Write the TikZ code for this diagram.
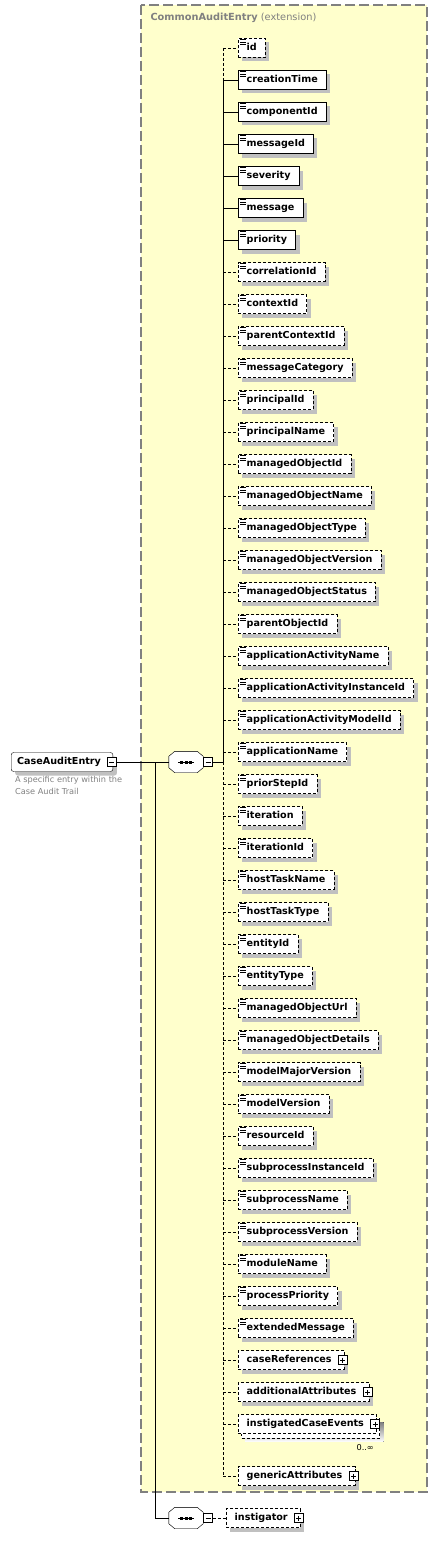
\documentclass[tikz,border=0pt]{standalone}
\usepackage{fontspec}
\setmainfont{DejaVu Sans}
\usetikzlibrary{positioning,shadows}

\definecolor{extFill}{RGB}{255,255,204}
\definecolor{extFrame}{RGB}{128,128,128}
\definecolor{shade}{RGB}{192,192,192}
\definecolor{noteText}{RGB}{128,128,128}

\pgfdeclarelayer{frame}
\pgfdeclarelayer{behind}
\pgfsetlayers{frame,behind,main}

\tikzset{
  elemBase/.style={draw, fill=white, anchor=west, inner xsep=8.5pt, inner ysep=4.5pt,
    text height=7.5pt, text depth=2.5pt, font=\fontsize{9.6}{11}\selectfont\bfseries},
  elem/.style={elemBase,
    drop shadow={shadow xshift=4pt, shadow yshift=-4pt, fill=shade, draw=none, opacity=1}},
  req/.style={solid},
  opt/.style={dash pattern=on 3pt off 2pt},
  pm/.style={draw, fill=white, solid, line width=.8pt, minimum size=9pt, inner sep=0pt},
  plusbox/.style={pm, path picture={
      \draw[line width=.8pt] ([xshift=2pt]path picture bounding box.west) -- ([xshift=-2pt]path picture bounding box.east)
        ([yshift=-2pt]path picture bounding box.north) -- ([yshift=2pt]path picture bounding box.south);}},
  minusbox/.style={pm, path picture={
      \draw[line width=.8pt] ([xshift=2pt]path picture bounding box.west) -- ([xshift=-2pt]path picture bounding box.east);}},
  seq/.style={minimum width=34pt, minimum height=21pt, inner sep=0pt},
  extBox/.style={fill=extFill, draw=extFrame, line width=1.2pt, dash pattern=on 10pt off 4pt},
}

\begin{document}
\begin{tikzpicture}[x=1pt,y=-1pt,line width=1pt]
  \useasboundingbox (0,0) rectangle (438,1544);

  % extension frame
  \begin{pgfonlayer}{frame}
    \draw[extBox] (141,5) rectangle (427,1492);
  \end{pgfonlayer}
  \node[anchor=west, text=extFrame, font=\fontsize{9.8}{12}\selectfont] (extTitle) at (147,18)
    {\textbf{CommonAuditEntry} (extension)};

  % root element
  \node[elem, req, rounded corners=2.5pt, inner xsep=6pt] (caseAuditEntry) at (11,762) {CaseAuditEntry\hspace*{6pt}};
  \node[minusbox] (rootToggle) at ([xshift=-1.5pt]caseAuditEntry.east) {};
  \node[anchor=north west, text=noteText, align=left, inner sep=0pt,
    font=\fontsize{8.2}{12}\selectfont] (entryNote) at (15,776) {A specific entry within the\\Case Audit Trail};

  % sequences
  \node[seq] (seqMain) at (186,762) {};
  \node[seq] (seqLower) at (186,1518) {};
  \foreach \s in {seqMain,seqLower} {
    \fill[shade,shift={(3,3)}] ([xshift=6pt]\s.north west) -- ([xshift=-6pt]\s.north east)
      -- ([yshift=-5pt]\s.north east) -- ([yshift=5pt]\s.south east) -- ([xshift=-6pt]\s.south east)
      -- ([xshift=6pt]\s.south west) -- ([yshift=5pt]\s.south west) -- ([yshift=-5pt]\s.north west) -- cycle;
    \draw[fill=white] ([xshift=6pt]\s.north west) -- ([xshift=-6pt]\s.north east)
      -- ([yshift=-5pt]\s.north east) -- ([yshift=5pt]\s.south east) -- ([xshift=-6pt]\s.south east)
      -- ([xshift=6pt]\s.south west) -- ([yshift=5pt]\s.south west) -- ([yshift=-5pt]\s.north west) -- cycle;
    \draw (\s.center) +(-8,0) -- +(8,0);
    \foreach \dx in {-4.5,0,4.5}
      \fill ([xshift=\dx pt]\s.center) +(-1.5,-1.5) rectangle +(1.5,1.5);
  }
  \node[minusbox] (seqMainToggle) at (208,762) {};
  \node[minusbox] (seqLowerToggle) at (208,1518) {};
  \coordinate (branch) at (155,762);
  \draw (rootToggle.east) -- (seqMain.west);
  \draw (branch) |- (seqLower.west);

  % spine
  \coordinate (spTop) at (223,48);
  \coordinate (spReq) at (223,80);
  \coordinate (spSeq) at (223,762);
  \coordinate (spEnd) at (223,1476);
  \draw[opt] (spTop) -- (spReq);
  \draw (spReq) -- (spSeq);
  \draw[opt] (spSeq) -- (spEnd);
  \draw (seqMainToggle.east) -- (spSeq);

  % simple elements
  \foreach \lbl/\kind [count=\i from 0] in {id/opt, creationTime/req, componentId/req, messageId/req,
      severity/req, message/req, priority/req, correlationId/opt, contextId/opt, parentContextId/opt,
      messageCategory/opt, principalId/opt, principalName/opt, managedObjectId/opt,
      managedObjectName/opt, managedObjectType/opt, managedObjectVersion/opt, managedObjectStatus/opt,
      parentObjectId/opt, applicationActivityName/opt, applicationActivityInstanceId/opt,
      applicationActivityModelId/opt, applicationName/opt, priorStepId/opt, iteration/opt,
      iterationId/opt, hostTaskName/opt, hostTaskType/opt, entityId/opt, entityType/opt,
      managedObjectUrl/opt, managedObjectDetails/opt, modelMajorVersion/opt, modelVersion/opt,
      resourceId/opt, subprocessInstanceId/opt, subprocessName/opt, subprocessVersion/opt,
      moduleName/opt, processPriority/opt, extendedMessage/opt} {
    \coordinate (sp\i) at (223,{48+32*\i});
    \node[elem,\kind] (\lbl) at (238,{48+32*\i}) {\lbl};
    \draw[\kind] (sp\i) -- (\lbl.west);
    \foreach \dy in {1.5,3.75,6}
      \draw[solid,line width=.8pt] ([shift={(2,\dy)}]\lbl.north west) -- ++(6,0);
  }

  % complex elements
  \foreach \lbl/\yy in {caseReferences/1360, additionalAttributes/1392, genericAttributes/1476} {
    \coordinate (sp\lbl) at (223,\yy);
    \node[elem,opt] (\lbl) at (238,\yy) {\lbl\hspace*{4pt}};
    \draw[opt] (sp\lbl) -- (\lbl.west);
    \node[plusbox] at ([xshift=-1.5pt]\lbl.east) {};
  }
  \node[elemBase,opt] (instigatedCaseEvents) at (238,1424) {instigatedCaseEvents\hspace*{4pt}};
  \begin{pgfonlayer}{behind}
    \fill[shade] ([shift={(7,8)}]instigatedCaseEvents.north west) rectangle ([shift={(7,8)}]instigatedCaseEvents.south east);
    \draw[opt,fill=white] ([shift={(3,4)}]instigatedCaseEvents.north west) rectangle ([shift={(3,4)}]instigatedCaseEvents.south east);
  \end{pgfonlayer}
  \coordinate (spEvents) at (223,1424);
  \draw[opt] (spEvents) -- (instigatedCaseEvents.west);
  \node[plusbox] at ([xshift=-1.5pt]instigatedCaseEvents.east) {};
  \node[anchor=east, inner sep=0pt, font=\fontsize{8.2}{10}\selectfont] (eventsOccurs) at (374,1447) {0..∞};

  % instigator
  \node[elem,opt] (instigator) at (226,1518) {instigator\hspace*{4pt}};
  \node[plusbox] at ([xshift=-1.5pt]instigator.east) {};
  \draw[opt] (seqLowerToggle.east) -- (instigator.west);
\end{tikzpicture}
\end{document}
